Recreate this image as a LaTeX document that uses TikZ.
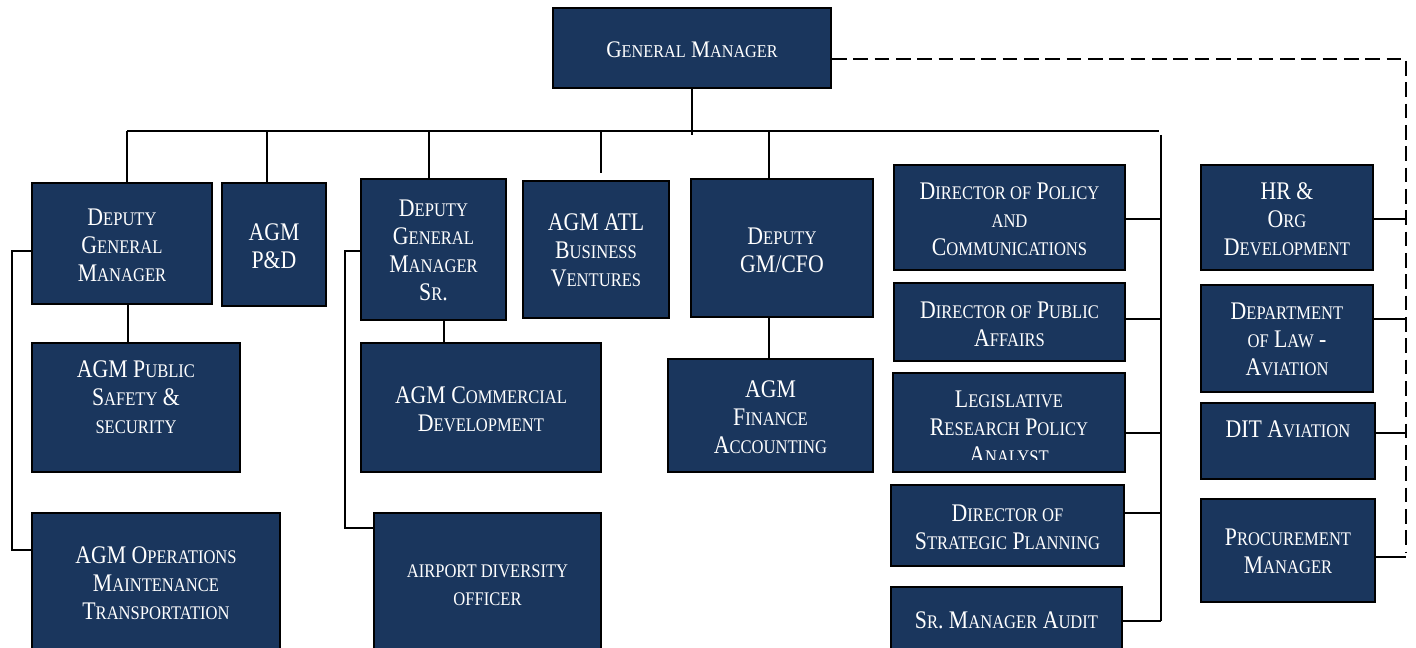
\documentclass[tikz,border=0pt]{standalone}
\usepackage{fontspec}
\setmainfont{Liberation Serif}[FakeStretch=0.86]
\newfontfamily\headfont{Liberation Serif}[FakeStretch=0.9]
\makeatletter
% hand-made small capitals: the letters are typed in upper case and set smaller
\newcommand\smc[1]{{\fontsize{\fpeval{0.76*\f@size}}{\f@baselineskip}\selectfont #1}}
\makeatother
\definecolor{unitblue}{RGB}{26,54,93}

% [text style]{name}{x1}{y1}{x2}{y2}{text centre y}{text}
\newcommand\unitbox[8][orgtext]{%
  \pgfmathsetmacro\bw{(#5-#3)*0.75}%
  \pgfmathsetmacro\bh{(#6-#4)*0.75}%
  \node[orgbox,minimum width=\bw pt,minimum height=\bh pt] (#2) at ({(#3+#5)/2},{(#4+#6)/2}) {};%
  \node[#1] (#2-t) at ({(#3+#5)/2},#7) {#8};%
}

\begin{document}
\begin{tikzpicture}[x=0.75pt,y=-0.75pt,
  orgbox/.style={draw=black,line width=1.5pt,fill=unitblue,inner sep=0pt},
  orgtext/.style={text=white,align=center,inner sep=0pt,font=\fontsize{19}{21}\selectfont},
  gmtext/.style={orgtext,font=\headfont\fontsize{17.8}{21}\selectfont},
  link/.style={line width=1.5pt,draw=black},
  thinlink/.style={line width=1.1pt,draw=black},
  dotted link/.style={line width=1.3pt,draw=black,dash pattern=on 11pt off 5pt}]

\clip (0,0) rectangle (1416,648);
\fill[white] (0,0) rectangle (1416,648);

% ---------- top ----------
\unitbox[gmtext]{gm}{553}{8}{831}{88}{50}{G\smc{ENERAL} M\smc{ANAGER}}

% ---------- first row ----------
\unitbox{dgm}{32}{183}{212}{304}{245}{D\smc{EPUTY}\\G\smc{ENERAL}\\M\smc{ANAGER}}
\unitbox{pd}{222}{183}{326}{306}{246}{AGM\\P\&D}
\unitbox{dgmsr}{361}{179}{506}{320}{250}{D\smc{EPUTY}\\G\smc{ENERAL}\\M\smc{ANAGER}\\S\smc{R}.}
\unitbox{atl}{523}{181}{669}{318}{250}{AGM ATL\\B\smc{USINESS}\\V\smc{ENTURES}}
\unitbox{cfo}{691}{179}{873}{317}{250}{D\smc{EPUTY}\\GM/CFO}

% ---------- second row ----------
\unitbox{psafe}{32}{343}{240}{472}{397}{AGM P\smc{UBLIC}\\S\smc{AFETY} \&\\\smc{SECURITY}}
\unitbox{comm}{361}{343}{601}{472}{409}{AGM C\smc{OMMERCIAL}\\D\smc{EVELOPMENT}}
\unitbox{fin}{668}{359}{873}{472}{417}{AGM\\F\smc{INANCE}\\A\smc{CCOUNTING}}

% ---------- third row ----------
\unitbox{ops}{32}{513}{280}{672}{583}{AGM O\smc{PERATIONS}\\M\smc{AINTENANCE}\\T\smc{RANSPORTATION}}
\unitbox{airport}{374}{513}{601}{672}{585}{\smc{AIRPORT DIVERSITY}\\\smc{OFFICER}}

% ---------- staff column ----------
\unitbox{policy}{894}{165}{1125}{270}{219}{D\smc{IRECTOR OF} P\smc{OLICY}\\\smc{AND}\\C\smc{OMMUNICATIONS}}
\unitbox{affairs}{894}{283}{1125}{361}{324}{D\smc{IRECTOR OF} P\smc{UBLIC}\\A\smc{FFAIRS}}
\node[orgbox,minimum width=174pt,minimum height=74.25pt] (leg) at (1009,422.5) {};
\begin{scope}
  \clip (893,374) rectangle (1125,459);
  \node[orgtext] (leg-t) at (1009,427) {L\smc{EGISLATIVE}\\R\smc{ESEARCH} P\smc{OLICY}\\A\smc{NALYST}};
\end{scope}
\unitbox{strat}{891}{485}{1124}{566}{527}{D\smc{IRECTOR OF}\\S\smc{TRATEGIC} P\smc{LANNING}}
\unitbox{audit}{891}{587}{1122}{672}{620}{S\smc{R}. M\smc{ANAGER} A\smc{UDIT}}

% ---------- right column ----------
\unitbox{hr}{1201}{165}{1373}{270}{219}{HR \&\\O\smc{RG}\\D\smc{EVELOPMENT}}
\unitbox{law}{1201}{285}{1373}{392}{339}{D\smc{EPARTMENT}\\\smc{OF} L\smc{AW} -\\A\smc{VIATION}}
\unitbox{dit}{1201}{403}{1375}{479}{429}{DIT A\smc{VIATION}}
\unitbox{proc}{1201}{499}{1375}{602}{551}{P\smc{ROCUREMENT}\\M\smc{ANAGER}}

% ---------- bus lines ----------
\coordinate (busL) at (127,131);
\coordinate (busR) at (1159,131);
\coordinate (d2) at (267,131);
\coordinate (d3) at (429,131);
\coordinate (d4) at (601,131);
\coordinate (d4e) at (601,173);
\coordinate (d5) at (769,131);
\coordinate (staffTop) at (1161,135);
\coordinate (staffBot) at (1161,621);

\draw[link] (gm.south) -- (gm.south |- staffTop);
\draw[thinlink] (busL) -- (busR);
\draw[thinlink] (staffTop) -- (staffBot);
\draw[link] (busL) -- (busL |- dgm.north);
\draw[link] (d2) -- (d2 |- pd.north);
\draw[link] (d3) -- (d3 |- dgmsr.north);
\draw[link] (d4) -- (d4e);
\draw[link] (d5) -- (d5 |- cfo.north);

% ---------- reporting lines below the first row ----------
\coordinate (c1) at (128,0);
\coordinate (c2) at (444,0);
\draw[link] (c1 |- dgm.south) -- (c1 |- psafe.north);
\draw[link] (c2 |- dgmsr.south) -- (c2 |- comm.north);
\draw[link] (d5 |- cfo.south) -- (d5 |- fin.north);

\coordinate (l1) at (12,251);
\coordinate (l1b) at (12,550);
\draw[link] (dgm.west |- l1) -- (l1) -- (l1b) -- (ops.west |- l1b);
\coordinate (l2) at (345,251);
\coordinate (l2b) at (345,528);
\draw[link] (dgmsr.west |- l2) -- (l2) -- (l2b) -- (airport.west |- l2b);

% ---------- staff column stubs ----------
\foreach \n/\yy in {policy/219,affairs/319,leg/433,strat/513,audit/621}
  \draw[link] (\n.east |- 0,\yy) -- (staffTop |- 0,\yy);

% ---------- dashed line and right column stubs ----------
\coordinate (dtop) at (1406,59);
\coordinate (dbot) at (1406,552);
\draw[dotted link] (gm.east |- dtop) -- (dtop) -- (dbot);
\foreach \n/\yy in {hr/219,law/319,dit/433,proc/557}
  \draw[link] (\n.east |- 0,\yy) -- (dtop |- 0,\yy);

\end{tikzpicture}
\end{document}
